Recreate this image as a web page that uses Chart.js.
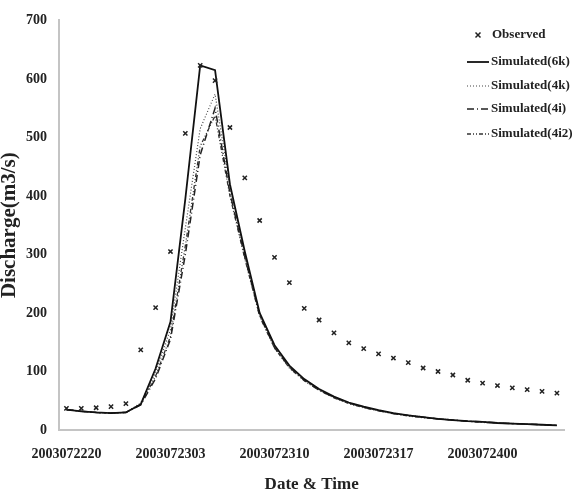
<!DOCTYPE html>
<html>
<head>
<meta charset="utf-8">
<script src="https://cdn.jsdelivr.net/npm/chart.js@4.4.1/dist/chart.umd.min.js"></script>
<style>
  html, body { margin: 0; padding: 0; background: #fff; }
  #wrap { width: 573px; height: 499px; position: relative; }
</style>
</head>
<body>
<div id="wrap"><canvas id="hydroChart"></canvas></div>
<script>
// hourly time stamps (yyyymmddhh)
const categories = [
  '2003072220', '2003072221', '2003072222', '2003072223',
  '2003072300', '2003072301', '2003072302', '2003072303',
  '2003072304', '2003072305', '2003072306', '2003072307',
  '2003072308', '2003072309', '2003072310', '2003072311',
  '2003072312', '2003072313', '2003072314', '2003072315',
  '2003072316', '2003072317', '2003072318', '2003072319',
  '2003072320', '2003072321', '2003072322', '2003072323',
  '2003072400', '2003072401', '2003072402', '2003072403',
  '2003072404', '2003072405'
];
const tickLabels = ['2003072220', '2003072303', '2003072310', '2003072317', '2003072400'];

const observed = [37, 37, 38, 40, 45, 137, 209, 305, 507, 623, 597, 517, 431, 358, 295, 252, 208,
  188, 166, 149, 139, 130, 123, 115, 106, 100, 94, 85, 80, 76, 72, 69, 66, 63];
const sim6k = [35, 32, 30, 29, 30, 44, 105, 185, 395, 623, 615, 420, 305, 200, 145, 110, 87,
  70, 57, 47, 40, 34, 29, 25, 22, 19, 17, 15, 14, 12, 11, 10, 9, 8];
const sim4k = [35, 32, 30, 29, 30, 46, 98, 172, 345, 515, 574, 415, 300, 198, 143, 108, 86,
  69, 56, 46, 39, 33, 28, 25, 22, 19, 17, 15, 14, 12, 11, 10, 9, 8];
const sim4i = [35, 32, 30, 29, 30, 43, 88, 155, 300, 470, 550, 405, 296, 196, 141, 107, 85,
  68, 56, 46, 39, 33, 28, 25, 22, 19, 17, 15, 14, 12, 11, 10, 9, 8];
const sim4i2 = [35, 32, 30, 29, 30, 44, 92, 160, 315, 485, 537, 400, 293, 194, 140, 106, 84,
  68, 55, 45, 38, 33, 28, 24, 21, 19, 17, 15, 13, 12, 11, 10, 9, 8];

const serif = "'Liberation Serif', 'Times New Roman', serif";
const textColor = '#222';
const axisColor = '#c4c4c4';

// legend drawn inside the plot, top right
const sideLegend = {
  id: 'sideLegend',
  afterDraw(chart) {
    const ctx = chart.ctx;
    const rows = [35, 62, 86, 109, 134];
    ctx.save();
    ctx.font = 'bold 13px ' + serif;
    ctx.fillStyle = textColor;
    ctx.textBaseline = 'middle';
    chart.data.datasets.forEach((ds, i) => {
      const y = rows[i];
      if (ds.showLine === false) {
        ctx.strokeStyle = ds.borderColor;
        ctx.lineWidth = 1.5;
        ctx.setLineDash([]);
        ctx.beginPath();
        ctx.moveTo(475.5, y - 2.5); ctx.lineTo(480.5, y + 2.5);
        ctx.moveTo(480.5, y - 2.5); ctx.lineTo(475.5, y + 2.5);
        ctx.stroke();
        ctx.fillText(ds.label, 492, y);
      } else {
        ctx.strokeStyle = ds.borderColor;
        ctx.lineWidth = ds.borderWidth;
        ctx.setLineDash(ds.borderDash || []);
        ctx.beginPath();
        ctx.moveTo(467, y);
        ctx.lineTo(489, y);
        ctx.stroke();
        ctx.fillText(ds.label, 491, y);
      }
    });
    ctx.restore();
  }
};

const ctx = document.getElementById('hydroChart').getContext('2d');
new Chart(ctx, {
  type: 'line',
  data: {
    labels: categories,
    datasets: [
      {
        label: 'Observed',
        data: observed,
        showLine: false,
        borderColor: '#222',
        backgroundColor: '#222',
        pointStyle: 'crossRot',
        pointRadius: 3,
        pointBorderWidth: 1.5
      },
      {
        label: 'Simulated(6k)',
        data: sim6k,
        borderColor: '#111',
        borderWidth: 1.8,
        pointRadius: 0,
        tension: 0
      },
      {
        label: 'Simulated(4k)',
        data: sim4k,
        borderColor: '#444',
        borderWidth: 1.2,
        borderDash: [1, 2],
        pointRadius: 0,
        tension: 0
      },
      {
        label: 'Simulated(4i)',
        data: sim4i,
        borderColor: '#222',
        borderWidth: 1.5,
        borderDash: [7, 3, 1, 3],
        pointRadius: 0,
        tension: 0
      },
      {
        label: 'Simulated(4i2)',
        data: sim4i2,
        borderColor: '#333',
        borderWidth: 1.3,
        borderDash: [4, 2, 1, 2, 1, 2],
        pointRadius: 0,
        tension: 0
      }
    ]
  },
  options: {
    responsive: true,
    maintainAspectRatio: false,
    animation: false,
    layout: { padding: { top: 18, right: 6, bottom: 0, left: 0 } },
    plugins: {
      legend: { display: false },
      tooltip: { enabled: false }
    },
    scales: {
      x: {
        type: 'category',
        offset: true,
        grid: { display: false, drawTicks: false },
        border: { display: true, color: axisColor, width: 2 },
        ticks: {
          autoSkip: false,
          maxRotation: 0,
          minRotation: 0,
          padding: 16,
          color: textColor,
          font: { family: serif, size: 14, weight: 'bold' },
          callback: function (value) {
            const lab = this.getLabelForValue(value);
            return tickLabels.includes(lab) ? lab : '';
          }
        },
        title: {
          display: true,
          text: 'Date & Time',
          color: textColor,
          font: { family: serif, size: 17, weight: 'bold' },
          padding: { top: 0, bottom: 4 }
        },
        afterFit: (scale) => { scale.height = 69; }
      },
      y: {
        min: 0,
        max: 700,
        grid: { display: false, drawTicks: false },
        border: { display: true, color: axisColor, width: 2 },
        ticks: {
          stepSize: 100,
          padding: 12,
          color: textColor,
          font: { family: serif, size: 14, weight: 'bold' }
        },
        title: {
          display: true,
          text: 'Discharge(m3/s)',
          color: textColor,
          font: { family: serif, size: 21, weight: 'bold', lineHeight: 1 },
          padding: { top: -1, bottom: 0 }
        },
        afterFit: (scale) => { scale.width = 59; }
      }
    }
  },
  plugins: [sideLegend]
});
</script>
</body>
</html>
